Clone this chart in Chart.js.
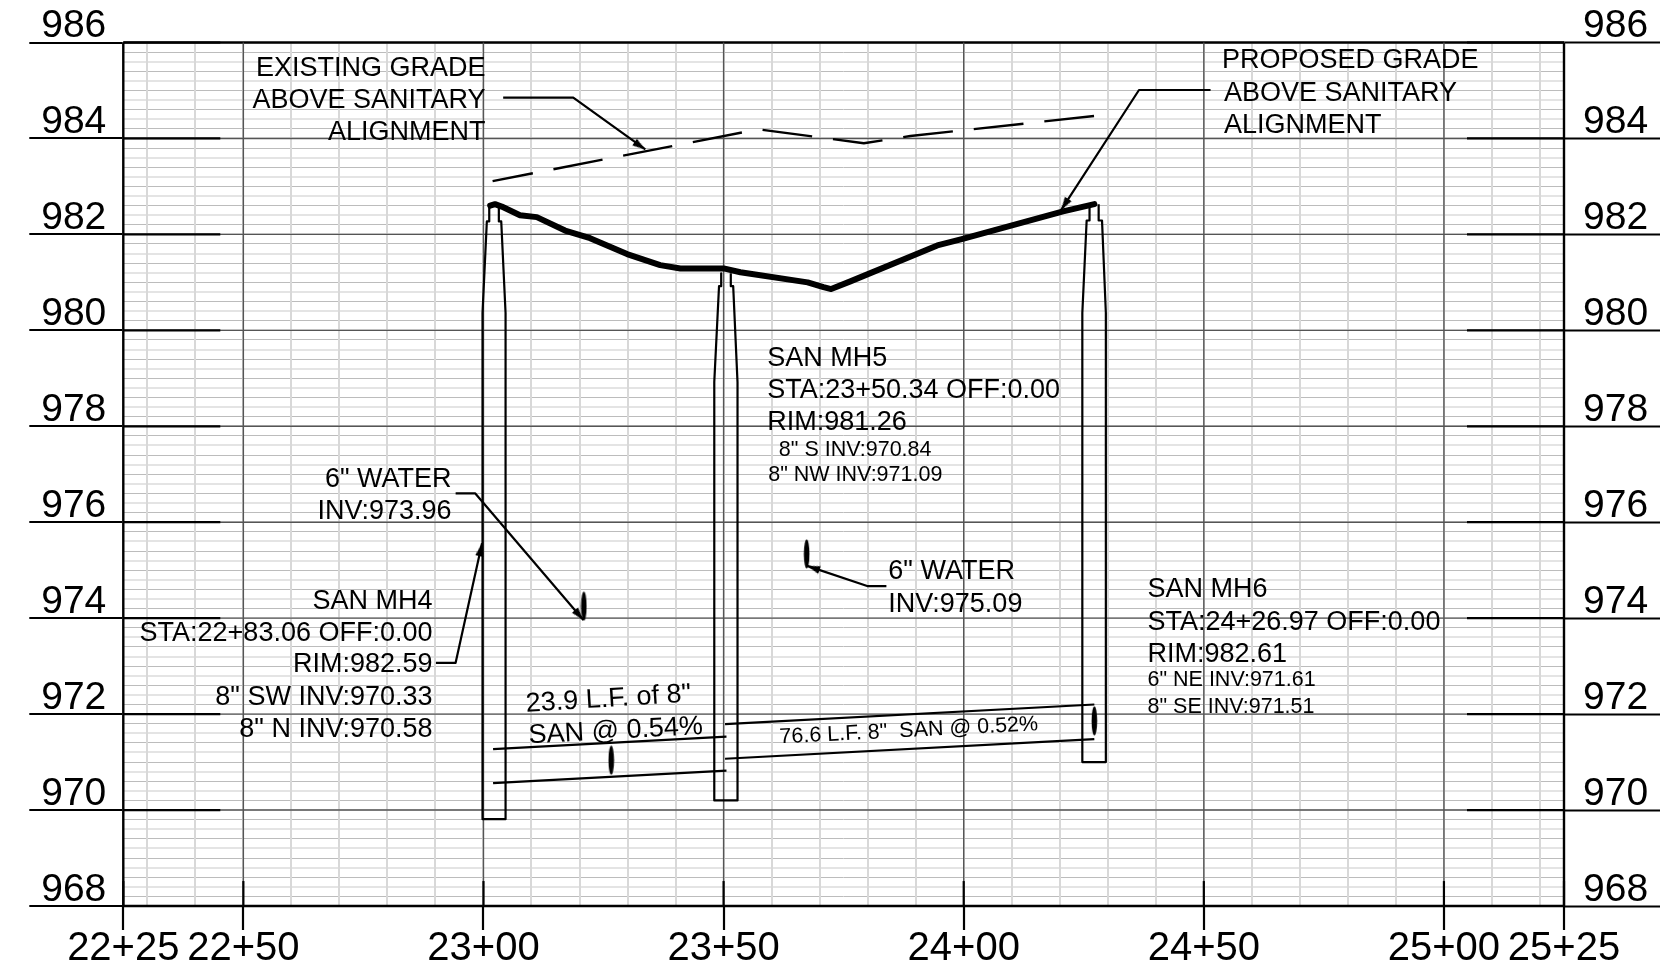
<!DOCTYPE html>
<html>
<head>
<meta charset="utf-8">
<title>Sanitary profile</title>
<style>
	html, body { margin: 0; background: #fff; }
	canvas { display: block; }
</style>
<script src="https://cdn.jsdelivr.net/npm/chart.js@4"></script>
</head>
<body>
<canvas id="profile" width="1666" height="972"></canvas>
<script>
// axes
const stationTicks = [2225, 2250, 2300, 2350, 2400, 2450, 2500, 2525];
const stationLabels = ['22+25', '22+50', '23+00', '23+50', '24+00', '24+50', '25+00', '25+25'];
const elevationTicks = [968, 970, 972, 974, 976, 978, 980, 982, 984, 986];

// grade lines
const proposedSta = [2301.4, 2302.4, 2303.8, 2307.6, 2311.1, 2317.0, 2322.2, 2329.9, 2336.8, 2341.0, 2350.0, 2353.5, 2367.5, 2370.8, 2372.4, 2376.4, 2394.5, 2399.6, 2420.7, 2427.2];
const proposedElev = [982.60, 982.63, 982.58, 982.40, 982.36, 982.08, 981.92, 981.59, 981.36, 981.29, 981.29, 981.21, 981.00, 980.90, 980.86, 981.02, 981.77, 981.90, 982.48, 982.63];
const existingSta = [2301.9, 2357.2, 2379.2, 2388.9, 2427.3];
const existingElev = [983.11, 984.19, 983.90, 984.05, 984.47];

// manholes
const mh4Sta = [2301.2, 2301.2, 2300.7, 2299.8, 2299.8, 2304.6, 2304.6, 2303.7, 2303.2, 2303.2];
const mh4Elev = [982.61, 982.27, 982.27, 980.36, 969.81, 969.81, 980.36, 982.27, 982.27, 982.57];
const mh5Sta = [2349.5, 2349.5, 2349.05, 2348.06, 2348.06, 2352.9, 2352.9, 2352.0, 2351.5, 2351.5];
const mh5Elev = [981.19, 980.92, 980.92, 978.92, 970.20, 970.20, 978.92, 980.92, 980.92, 981.19];
const mh6Sta = [2426.2, 2426.2, 2425.6, 2424.7, 2424.7, 2429.6, 2429.6, 2428.8, 2428.1, 2428.1];
const mh6Elev = [982.55, 982.29, 982.29, 980.36, 971.00, 971.00, 980.36, 982.29, 982.29, 982.63];

// pipes, crown and invert
const pipeASta = [2302.0, 2350.6];
const pipeACrown = [971.27, 971.53];
const pipeAInvert = [970.56, 970.82];
const pipeBSta = [2350.3, 2427.2];
const pipeBCrown = [971.79, 972.20];
const pipeBInvert = [971.07, 971.48];

// water line crossings
const crossingSta = [2326.6, 2427.2, 2320.9, 2367.3];
const crossingElev = [971.04, 971.86, 974.25, 975.34];

// leaders
const existingLeaderSta = [2304.1, 2318.7, 2333.7];
const existingLeaderElev = [984.85, 984.85, 983.77];
const proposedLeaderSta = [2451.4, 2436.5, 2420.3];
const proposedLeaderElev = [985.01, 985.01, 982.51];
const water1LeaderSta = [2294.2, 2298.3, 2320.8];
const water1LeaderElev = [976.60, 976.60, 973.96];
const water2LeaderSta = [2383.9, 2379.9, 2367.4];
const water2LeaderElev = [974.67, 974.67, 975.09];
const mh4LeaderSta = [2290.1, 2294.2, 2299.7];
const mh4LeaderElev = [973.07, 973.07, 975.56];

const FONT = '"Liberation Sans", Arial, sans-serif';

function pts(xs, ys) {
	return xs.map((x, i) => ({ x: x, y: ys[i] }));
}

function line(xs, ys, width, extra) {
	return Object.assign({
		data: pts(xs, ys),
		borderColor: '#000',
		borderWidth: width,
		pointRadius: 0,
		borderJoinStyle: 'round',
		clip: false
	}, extra || {});
}

// arrow head as point image, tip in the middle of the image
const arrowImg = document.createElement('canvas');
arrowImg.width = 9;
arrowImg.height = 28;
(function () {
	const c = arrowImg.getContext('2d');
	c.beginPath();
	c.moveTo(4.5, 14);
	c.lineTo(8.5, 27);
	c.lineTo(0.5, 27);
	c.closePath();
	c.fill();
})();

// crossing pipe seen end on
const crossingImg = document.createElement('canvas');
crossingImg.width = 7;
crossingImg.height = 30;
(function () {
	const c = crossingImg.getContext('2d');
	c.beginPath();
	c.ellipse(3.5, 15, 2.8, 14.5, 0, 0, Math.PI * 2);
	c.fill();
})();

function leader(xs, ys, rotation) {
	return line(xs, ys, 2.2, {
		pointStyle: arrowImg,
		pointRadius: [0, 0, 1],
		pointRotation: [0, 0, rotation]
	});
}

const datasets = [
	line(proposedSta, proposedElev, 6, { borderCapStyle: 'round' }),
	line(existingSta, existingElev, 2.4, { borderDash: [50, 21], borderDashOffset: 9 }),
	line(mh4Sta, mh4Elev, 2.2),
	line(mh5Sta, mh5Elev, 2.2),
	line(mh6Sta, mh6Elev, 2.2),
	line(pipeASta, pipeACrown, 2.2),
	line(pipeASta, pipeAInvert, 2.2),
	line(pipeBSta, pipeBCrown, 2.2),
	line(pipeBSta, pipeBInvert, 2.2),
	leader(existingLeaderSta, existingLeaderElev, 124.4),
	leader(proposedLeaderSta, proposedLeaderElev, -147.1),
	leader(water1LeaderSta, water1LeaderElev, 139.6),
	leader(water2LeaderSta, water2LeaderElev, -71.3),
	leader(mh4LeaderSta, mh4LeaderElev, 12.3),
	{
		data: pts(crossingSta, crossingElev),
		showLine: false,
		pointStyle: crossingImg,
		pointRadius: 1,
		clip: false
	}
];

// major grid and heavy stubs, under the rest of the marks
stationTicks.forEach(s => {
	const edge = s === 2225 || s === 2525;
	datasets.push(line([s, s], [968, 968.52], 2.2));
	datasets.push(line([s, s], [968, 986], edge ? 2.4 : 1.4, { borderColor: edge ? '#000' : '#555' }));
});
elevationTicks.forEach(e => {
	const edge = e === 968 || e === 986;
	datasets.push(line([2225, 2245.2], [e, e], 2.2));
	datasets.push(line([2504.8, 2525], [e, e], 2.2));
	datasets.push(line([2225, 2525], [e, e], edge ? 2.6 : 1.4, { borderColor: edge ? '#000' : '#555' }));
});

// station, elevation, text, size, align, angle
const notes = [
	[2300.44, 985.31, 'EXISTING GRADE', 27, 'right'],
	[2300.44, 984.63, 'ABOVE SANITARY', 27, 'right'],
	[2300.44, 983.96, 'ALIGNMENT', 27, 'right'],
	[2453.8, 985.47, 'PROPOSED GRADE', 27, 'left'],
	[2454.2, 984.78, 'ABOVE SANITARY', 27, 'left'],
	[2454.2, 984.12, 'ALIGNMENT', 27, 'left'],
	[2359.07, 979.25, 'SAN MH5', 27, 'left'],
	[2359.07, 978.58, 'STA:23+50.34 OFF:0.00', 27, 'left'],
	[2359.07, 977.92, 'RIM:981.26', 27, 'left'],
	[2361.5, 977.39, '8" S INV:970.84', 21.5, 'left'],
	[2359.3, 976.86, '8" NW INV:971.09', 21.5, 'left'],
	[2293.36, 976.74, '6" WATER', 27, 'right'],
	[2293.36, 976.06, 'INV:973.96', 27, 'right'],
	[2384.3, 974.82, '6" WATER', 27, 'left'],
	[2384.3, 974.13, 'INV:975.09', 27, 'left'],
	[2289.38, 974.20, 'SAN MH4', 27, 'right'],
	[2289.38, 973.53, 'STA:22+83.06 OFF:0.00', 27, 'right'],
	[2289.38, 972.87, 'RIM:982.59', 27, 'right'],
	[2289.38, 972.18, '8" SW INV:970.33', 27, 'right'],
	[2289.38, 971.52, '8" N INV:970.58', 27, 'right'],
	[2438.27, 974.44, 'SAN MH6', 27, 'left'],
	[2438.27, 973.76, 'STA:24+26.97 OFF:0.00', 27, 'left'],
	[2438.27, 973.09, 'RIM:982.61', 27, 'left'],
	[2438.27, 972.58, '6" NE INV:971.61', 21.5, 'left'],
	[2438.27, 972.03, '8" SE INV:971.51', 21.5, 'left'],
	[2308.9, 972.05, '23.9 L.F. of 8"', 27, 'left', -3.5],
	[2309.5, 971.39, 'SAN @ 0.54%', 27, 'left', -3.1],
	[2361.7, 971.39, '76.6 L.F. 8"  SAN @ 0.52%', 21.5, 'left', -2.9]
];

const notesPlugin = {
	id: 'notes',
	afterDatasetsDraw(chart) {
		const ctx = chart.ctx;
		ctx.save();
		ctx.fillStyle = '#000';
		ctx.textBaseline = 'alphabetic';
		notes.forEach(n => {
			ctx.save();
			ctx.translate(chart.scales.x.getPixelForValue(n[0]), chart.scales.y.getPixelForValue(n[1]));
			if (n[5]) ctx.rotate(n[5] * Math.PI / 180);
			ctx.font = n[3] + 'px ' + FONT;
			ctx.textAlign = n[4];
			ctx.fillText(n[2], 0, 0);
			ctx.restore();
		});
		ctx.restore();
	}
};

function buildStationGrid(scale) {
	const t = [];
	for (let s = 2230; s <= 2520; s += 10) t.push(s);
	stationTicks.forEach(s => { if (t.indexOf(s) < 0) t.push(s); });
	t.sort((a, b) => a - b);
	scale.ticks = t.map(v => ({ value: v }));
}

function buildElevationGrid(scale) {
	const t = [];
	for (let i = 0; i <= 90; i++) t.push({ value: Math.round((968 + i * 0.2) * 10) / 10 });
	scale.ticks = t;
}

function isMajorElev(v) {
	return elevationTicks.indexOf(v) >= 0;
}

function elevGridIndex(v) {
	return Math.round((v - 968) / 0.2);
}

const yTickOptions = {
	autoSkip: false,
	color: '#000',
	font: { family: FONT, size: 39 },
	padding: -77,
	labelOffset: -16,
	callback: v => (isMajorElev(v) ? String(v) : '')
};

new Chart(document.getElementById('profile'), {
	type: 'line',
	data: { datasets: datasets },
	plugins: [notesPlugin],
	options: {
		responsive: false,
		animation: false,
		layout: { padding: { top: 42.5, left: 0, right: 0, bottom: 0 } },
		plugins: { legend: { display: false }, tooltip: { enabled: false } },
		elements: { line: { tension: 0 } },
		scales: {
			x: {
				type: 'linear',
				min: 2225,
				max: 2525,
				afterBuildTicks: buildStationGrid,
				afterFit: s => { s.height = 66; },
				border: { display: false },
				grid: {
					z: -0.5,
					tickLength: 24,
					color: '#d8d8d8',
					lineWidth: 2,
					tickColor: c => (stationTicks.indexOf(c.tick.value) >= 0 ? '#000' : 'rgba(0,0,0,0)'),
					tickWidth: 2.2
				},
				ticks: {
					autoSkip: false,
					maxRotation: 0,
					minRotation: 0,
					color: '#000',
					padding: -5,
					font: { family: FONT, size: 40 },
					callback: v => {
						const i = stationTicks.indexOf(v);
						return i >= 0 ? stationLabels[i] : '';
					}
				}
			},
			y: {
				type: 'linear',
				position: 'left',
				min: 968,
				max: 986,
				afterBuildTicks: buildElevationGrid,
				afterFit: s => { s.width = 123.3; },
				border: { display: false },
				grid: {
					tickLength: 94,
					color: c => (elevGridIndex(c.tick.value) % 2 ? '#bcbcbc' : '#e4e4e4'),
					lineWidth: c => (elevGridIndex(c.tick.value) % 2 ? 1 : 2),
					tickColor: c => (isMajorElev(c.tick.value) ? '#000' : 'rgba(0,0,0,0)'),
					tickWidth: 2.2
				},
				ticks: yTickOptions
			},
			yRight: {
				type: 'linear',
				position: 'right',
				min: 968,
				max: 986,
				afterBuildTicks: buildElevationGrid,
				afterFit: s => { s.width = 102; },
				border: { display: false },
				grid: {
					drawOnChartArea: false,
					tickLength: 96,
					tickColor: c => (isMajorElev(c.tick.value) ? '#000' : 'rgba(0,0,0,0)'),
					tickWidth: 2.2
				},
				ticks: yTickOptions
			}
		}
	}
});
</script>
</body>
</html>
